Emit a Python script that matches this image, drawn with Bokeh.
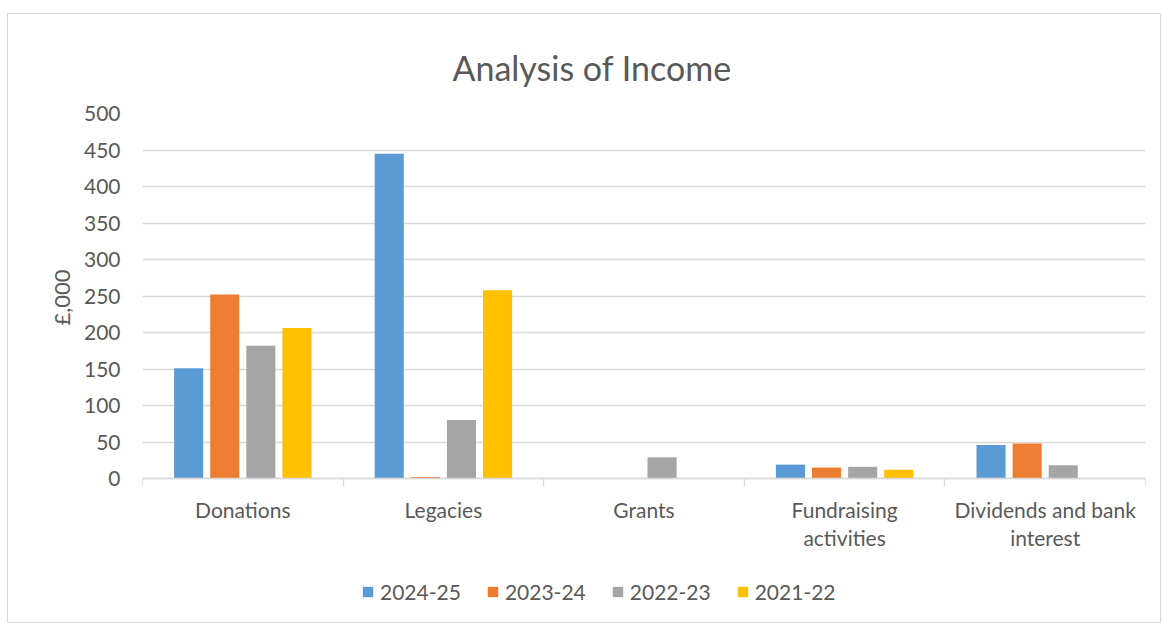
from bokeh.plotting import figure
from bokeh.models import (ColumnDataSource, Range1d, LinearAxis, FixedTicker,
                          Legend, LegendItem, Title)
from bokeh.embed import file_html
from bokeh.resources import INLINE

categories = ["Donations", "Legacies", "Grants", "Fundraising activities", "Dividends and bank interest"]
category_labels = ["Donations", "Legacies", "Grants", "Fundraising\nactivities", "Dividends and bank\ninterest"]
series_names = ["2024-25", "2023-24", "2022-23", "2021-22"]
s2024_25 = [151, 445, 0, 19, 46]
s2023_24 = [252, 2, 0, 15, 48]
s2022_23 = [182, 80, 29, 16, 18]
s2021_22 = [206, 258, 0, 12, 0]
colors = ["#5B9BD5", "#ED7D31", "#A5A5A5", "#FFC000"]
y_ticks = [0, 50, 100, 150, 200, 250, 300, 350, 400, 450, 500]

FONT = "Lato"
TXT = "#595959"
FS = "21px"

n = len(categories)
centers = [i + 0.5 for i in range(n)]
bounds = list(range(n + 1))

# the frame extends below zero to make room for category labels and the legend
Y_BOTTOM = -186.3
p = figure(x_range=Range1d(0, n), y_range=Range1d(Y_BOTTOM, 500),
           width=1154, height=610, output_backend="svg", toolbar_location=None,
           title="Analysis of Income", x_axis_location=None)
p.margin = (13, 0, 0, 7)
p.styles = {"border": "1px solid #d9d9d9", "box-sizing": "border-box"}
p.min_border_left = 134
p.min_border_right = 17
p.min_border_top = 99
p.min_border_bottom = 10
p.outline_line_color = None
p.background_fill_color = "white"
p.border_fill_color = "white"

p.title.text_font = FONT
p.title.text_font_size = "34px"
p.title.text_font_style = "normal"
p.title.text_color = TXT
p.title.align = "left"
p.title.offset = 310
p.title.standoff = 52

offsets = [-0.27, -0.09, 0.09, 0.27]
series = [s2024_25, s2023_24, s2022_23, s2021_22]
renderers = []
for vals, off, colr in zip(series, offsets, colors):
    src = ColumnDataSource(dict(x=[c + off for c in centers], top=vals))
    r = p.vbar(x="x", top="top", width=0.145, bottom=0,
               source=src, fill_color=colr, line_color=None)
    renderers.append(r)

# y axis
yax = p.yaxis[0]
yax.ticker = FixedTicker(ticks=y_ticks)
yax.axis_line_color = None
yax.major_tick_line_color = None
yax.minor_tick_line_color = None
yax.major_tick_out = 0
yax.major_tick_in = 0
yax.major_label_standoff = 22
yax.major_label_text_font = FONT
yax.major_label_text_font_size = FS
yax.major_label_text_color = TXT

# y axis title, centred on the 0-500 part of the frame
ylab = Title(text="£,000", align="left", offset=289, standoff=11,
             text_font=FONT, text_font_size="22px", text_font_style="normal", text_color=TXT)
p.add_layout(ylab, "left")

p.ygrid.grid_line_color = "#d9d9d9"
p.ygrid.grid_line_width = 1.3
p.xgrid.grid_line_color = None

# category axis at y=0: labels at centres, boundary ticks as minor ticks
cax = LinearAxis(ticker=FixedTicker(ticks=centers, minor_ticks=bounds), fixed_location=0)
cax.axis_line_color = "#d9d9d9"
cax.axis_line_width = 1.3
cax.major_tick_line_color = None
cax.major_tick_out = 8
cax.major_tick_in = 0
cax.minor_tick_line_color = "#d9d9d9"
cax.minor_tick_line_width = 1.3
cax.minor_tick_out = 8
cax.minor_tick_in = 0
cax.major_label_standoff = 10
cax.major_label_text_font = FONT
cax.major_label_text_font_size = FS
cax.major_label_text_color = TXT
cax.major_label_text_line_height = 1.15
cax.major_label_overrides = {c: lab for c, lab in zip(centers, category_labels)}
p.add_layout(cax, "below")

legend = Legend(items=[LegendItem(label=nm, renderers=[r]) for nm, r in zip(series_names, renderers)],
                orientation="horizontal", location=(219, 10))
legend.padding = 0
legend.margin = 0
legend.spacing = 25
legend.label_standoff = 6
legend.glyph_width = 13
legend.glyph_height = 13
legend.label_text_font = FONT
legend.label_text_font_size = FS
legend.label_text_color = TXT
legend.border_line_color = None
legend.background_fill_alpha = 0
p.add_layout(legend, "center")

open("out.html", "w").write(file_html(p, INLINE))
